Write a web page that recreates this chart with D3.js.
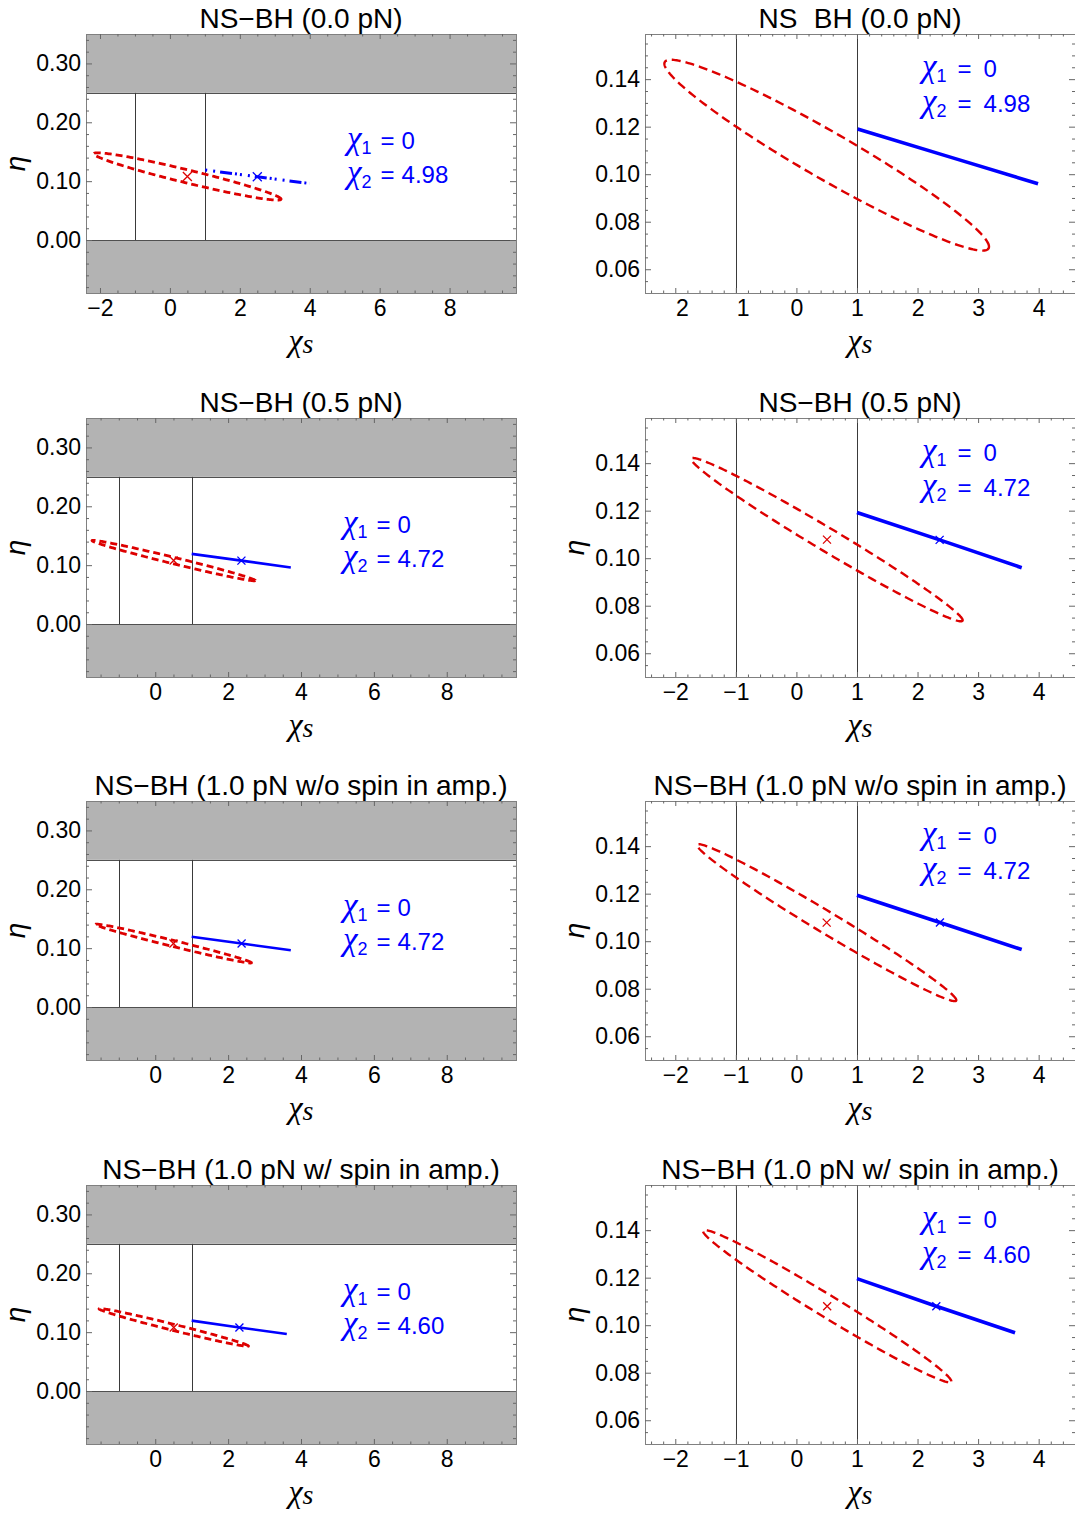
<!DOCTYPE html>
<html><head><meta charset="utf-8">
<script src="https://cdn.jsdelivr.net/npm/d3@7"></script>
<style>
body{margin:0;background:#fff}
svg{display:block}
text{font-family:"Liberation Sans",Arial,sans-serif}
</style>
</head><body>
<svg id="c" width="1075" height="1514"></svg>
<script>
// ---------------- data ----------------
const panelTitles = ["NS\u2212BH (0.0 pN)", "NS\u2212BH (0.5 pN)", "NS\u2212BH (1.0 pN w/o spin in amp.)", "NS\u2212BH (1.0 pN w/ spin in amp.)"];
const chi1Values = ["0", "0", "0", "0"];
const chi2Values = ["4.98", "4.72", "4.72", "4.60"];
// error ellipse (red, dashed): centre, half-span vector to the tip, half width in eta
const ellipseCenterX = [0.50, 0.505, 0.50, 0.508];
const ellipseCenterY = [0.108, 0.1078, 0.1078, 0.108];
const ellipseTipDX = [2.68, 2.24, 2.14, 2.05];
const ellipseTipDY = [-0.0385, -0.0339, -0.0326, -0.0316];
const ellipseHalfWidth = [0.0114, 0.0056, 0.0053, 0.0054];
// blue line (chi1 = 0, fixed chi2)
const blueLineX = [[1.01, 2.50, 3.99], [1.00, 2.365, 3.72], [1.00, 2.37, 3.72], [1.00, 2.31, 3.61]];
const blueLineY = [[0.1190, 0.1075, 0.0960], [0.1192, 0.1077, 0.0960], [0.1193, 0.1079, 0.0965], [0.1196, 0.1080, 0.0968]];
const blueMarkerX = [2.50, 2.365, 2.37, 2.31];
const blueMarkerY = [0.1075, 0.1077, 0.1079, 0.1080];
// axes
const leftXDomains = [[-2.4, 9.9], [-1.9, 9.9], [-1.9, 9.9], [-1.9, 9.9]];
const leftYDomain = [-0.09, 0.35];
const rightXDomain = [-2.5, 4.6];
const rightYDomain = [0.05, 0.159];
const leftXTicks = [-2, 0, 2, 4, 6, 8];
const leftYTicks = [0, 0.1, 0.2, 0.3];
const rightXTicks = [-2, -1, 0, 1, 2, 3, 4];
const rightYTicks = [0.06, 0.08, 0.10, 0.12, 0.14];
const etaBounds = [0, 0.25];
const spinBounds = [-1, 1];

// ---------------- layout ----------------
const rowTops = [34, 418, 801, 1185];
const frameH = 259;
const RED = "#dd0000", BLUE = "#0000ff";
const svg = d3.select("#c");
const minus = "\u2212";

function fmtX(v){ return (v < 0 ? minus : "") + Math.abs(v); }
function fmtY(v){ return (v < 0 ? minus : "") + Math.abs(v).toFixed(2); }
function range(a, b, s){ const out=[]; for(let v=a; v<=b+1e-9; v+=s) out.push(+v.toFixed(6)); return out; }

function panel(r, isLeft){
  const x0 = isLeft ? 86 : 645, x1 = isLeft ? 516 : 1075;
  const y0 = rowTops[r], y1 = y0 + frameH;
  const xs = d3.scaleLinear().domain(isLeft ? leftXDomains[r] : rightXDomain).range([x0, x1]);
  const ys = d3.scaleLinear().domain(isLeft ? leftYDomain : rightYDomain).range([y1, y0]);
  const id = "clip" + r + (isLeft ? "L" : "R");
  svg.append("clipPath").attr("id", id).append("rect")
     .attr("x", x0).attr("y", y0).attr("width", x1 - x0).attr("height", frameH);
  const g = svg.append("g");
  const pg = g.append("g").attr("clip-path", `url(#${id})`);

  if (isLeft){
    const yd = ys.domain();
    pg.append("rect").attr("x", x0).attr("width", x1 - x0)
      .attr("y", ys(yd[1])).attr("height", ys(etaBounds[1]) - ys(yd[1])).attr("fill", "#b3b3b3");
    pg.append("rect").attr("x", x0).attr("width", x1 - x0)
      .attr("y", ys(etaBounds[0])).attr("height", ys(yd[0]) - ys(etaBounds[0])).attr("fill", "#b3b3b3");
    etaBounds.forEach(e => pg.append("line").attr("x1", x0).attr("x2", x1)
      .attr("y1", Math.round(ys(e)) + 0.5).attr("y2", Math.round(ys(e)) + 0.5)
      .attr("stroke", "#505050").attr("stroke-width", 1));
  }
  // vertical spin bounds
  spinBounds.forEach(s => {
    const px = Math.round(xs(s)) + 0.5;
    pg.append("line").attr("x1", px).attr("x2", px)
      .attr("y1", isLeft ? ys(etaBounds[0]) : y1).attr("y2", isLeft ? ys(etaBounds[1]) : y0)
      .attr("stroke", "#3a3a3a").attr("stroke-width", 1);
  });

  // ellipse
  const N = 240;
  const pts = d3.range(N).map(i => {
    const t = 2 * Math.PI * i / N;
    return [ellipseCenterX[r] + ellipseTipDX[r] * Math.cos(t),
            ellipseCenterY[r] + ellipseTipDY[r] * Math.cos(t) + ellipseHalfWidth[r] * Math.sin(t)];
  });
  const line = d3.line().x(d => xs(d[0])).y(d => ys(d[1]));
  pg.append("path").attr("d", line.curve(d3.curveLinearClosed)(pts))
    .attr("fill", "none").attr("stroke", RED)
    .attr("stroke-width", isLeft ? 2.8 : 2.4)
    .attr("stroke-dasharray", isLeft ? "7,4" : "9,5");

  // blue line
  const bl = blueLineX[r].map((v, i) => [v, blueLineY[r][i]]);
  const bp = pg.append("path").attr("d", d3.line().x(d => xs(d[0])).y(d => ys(d[1]))(bl))
    .attr("fill", "none").attr("stroke", BLUE)
    .attr("stroke-width", isLeft ? 2.6 : 3.6);
  if (isLeft && r === 0) bp.attr("stroke-dasharray", "2,6,2,5,12,3,2,3").attr("stroke-width", 3);

  // markers
  const showMarkers = !(r === 0 && !isLeft);
  if (showMarkers){
    const ms = (isLeft && r === 0) ? 4.5 : 4;
    const cross = `M${-ms},${-ms}L${ms},${ms}M${-ms},${ms}L${ms},${-ms}`;
    pg.append("path").attr("d", cross)
      .attr("transform", `translate(${xs(ellipseCenterX[r])},${ys(ellipseCenterY[r])})`)
      .attr("stroke", RED).attr("stroke-width", 1.3).attr("fill", "none");
    pg.append("path").attr("d", cross)
      .attr("transform", `translate(${xs(blueMarkerX[r])},${ys(blueMarkerY[r])})`)
      .attr("stroke", BLUE).attr("stroke-width", 1.3).attr("fill", "none");
  }

  // frame
  g.append("rect").attr("x", x0 + 0.5).attr("y", y0 + 0.5)
    .attr("width", x1 - x0).attr("height", frameH)
    .attr("fill", "none").attr("stroke", "#808080").attr("stroke-width", 1);

  // ticks
  const xMajor = isLeft ? leftXTicks.filter(v => v >= xs.domain()[0]) : rightXTicks;
  const yMajor = isLeft ? leftYTicks : rightYTicks;
  const xd = xs.domain(), yd = ys.domain();
  const xMinor = (isLeft ? range(-3, 10, 0.5) : range(-3, 5, 0.2))
      .filter(v => v > xd[0] && v < xd[1] && !xMajor.some(m => Math.abs(m - v) < 1e-6));
  const yMinor = (isLeft ? range(-0.1, 0.36, 0.02) : range(0.045, 0.16, 0.005))
      .filter(v => v > yd[0] && v < yd[1] && !yMajor.some(m => Math.abs(m - v) < 1e-6));
  const fs = "23px";
  function styleAxis(sel){
    sel.select(".domain").remove();
    sel.selectAll("line").attr("stroke", "#666");
    sel.selectAll("text").attr("font-size", fs).attr("font-family", "Liberation Sans, Arial, sans-serif").attr("fill", "#000");
  }
  // bottom
  const bAx = g.append("g").attr("transform", `translate(0,${y1})`)
    .call(d3.axisBottom(xs).tickValues(xMajor).tickSize(-5).tickPadding(6.5).tickFormat(fmtX));
  styleAxis(bAx);
  g.append("g").attr("transform", `translate(0,${y1})`)
    .call(d3.axisBottom(xs).tickValues(xMinor).tickSize(-2.5).tickFormat("")).call(styleAxis);
  // top
  g.append("g").attr("transform", `translate(0,${y0})`)
    .call(d3.axisTop(xs).tickValues(xMajor).tickSize(-5).tickFormat("")).call(styleAxis);
  g.append("g").attr("transform", `translate(0,${y0})`)
    .call(d3.axisTop(xs).tickValues(xMinor).tickSize(-2.5).tickFormat("")).call(styleAxis);
  // left
  g.append("g").attr("transform", `translate(${x0},0)`)
    .call(d3.axisLeft(ys).tickValues(yMajor).tickSize(-6).tickPadding(5).tickFormat(fmtY)).call(styleAxis);
  g.append("g").attr("transform", `translate(${x0},0)`)
    .call(d3.axisLeft(ys).tickValues(yMinor).tickSize(-3).tickFormat("")).call(styleAxis);
  // right
  g.append("g").attr("transform", `translate(${x1},0)`)
    .call(d3.axisRight(ys).tickValues(yMajor).tickSize(-6).tickFormat("")).call(styleAxis);
  g.append("g").attr("transform", `translate(${x1},0)`)
    .call(d3.axisRight(ys).tickValues(yMinor).tickSize(-3).tickFormat("")).call(styleAxis);

  // the first right panel lost its minus signs in the original
  if (!isLeft && r === 0){
    bAx.selectAll("text").each(function(d){
      if (d < 0){
        const t = d3.select(this).text("");
        t.append("tspan").attr("fill-opacity", 0).text(minus);
        t.append("tspan").text(Math.abs(d));
      }
    });
  }

  // title
  const cx = (x0 + x1) / 2;
  const tt = g.append("text").attr("x", cx).attr("y", y0 - 6).attr("text-anchor", "middle")
    .attr("font-size", "28px").attr("fill", "#000");
  if (!isLeft && r === 0){
    const parts = panelTitles[r].split(minus);
    tt.append("tspan").text(parts[0]);
    tt.append("tspan").attr("fill-opacity", 0).text(minus);
    tt.append("tspan").text(parts[1]);
  } else tt.text(panelTitles[r]);

  // x label
  const xl = g.append("text").attr("x", cx).attr("y", y1 + 58).attr("text-anchor", "middle").attr("fill", "#000");
  xl.append("tspan").attr("font-family", "Liberation Serif, serif").attr("font-style", "italic").attr("font-size", "32px").text("\u03c7");
  xl.append("tspan").attr("font-family", "Liberation Serif, serif").attr("font-style", "italic").attr("font-size", "28px").attr("dy", 2).text("s");

  // y label
  if (!(r === 0 && !isLeft)){
    g.append("text").attr("transform", `translate(${isLeft ? 25 : 584},${(y0 + y1) / 2}) rotate(-90)`)
      .attr("text-anchor", "middle").attr("font-family", "Liberation Serif, serif")
      .attr("font-style", "italic").attr("font-size", "28px").attr("fill", "#000").text("\u03b7");
  }

  // chi labels
  const lx = isLeft ? (r === 0 ? 347 : 343) : 922;
  const base1 = y0 + (isLeft ? 115 : 43);
  const base2 = y0 + (isLeft ? 149 : 78);
  const eqDx = isLeft ? 9 : 11, valDx = isLeft ? 7 : 12;
  [[ "1", chi1Values[r], base1], ["2", chi2Values[r], base2]].forEach(([sub, val, by]) => {
    const t = g.append("text").attr("x", lx).attr("y", by).attr("fill", BLUE);
    t.append("tspan").attr("font-family", "Liberation Serif, serif").attr("font-style", "italic").attr("font-size", "33px").text("\u03c7");
    t.append("tspan").attr("font-size", "18px").attr("dy", 5).text(sub);
    t.append("tspan").attr("font-size", "24px").attr("dy", -5).attr("dx", eqDx).text("=");
    t.append("tspan").attr("font-size", "24px").attr("dx", valDx).text(val);
  });
}

for (let r = 0; r < 4; r++){ panel(r, true); panel(r, false); }
</script>
</body></html>
